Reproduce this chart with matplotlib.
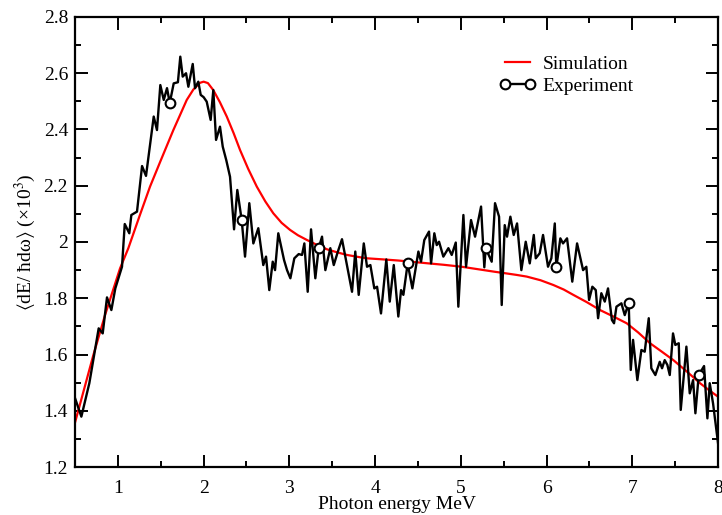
import numpy as np
import matplotlib
matplotlib.use("Agg")
import matplotlib.pyplot as plt
from matplotlib.ticker import MultipleLocator

plt.rcParams['font.family'] = ['Liberation Serif', 'DejaVu Serif']
plt.rcParams['mathtext.fontset'] = 'stix'

# Measured spectrum (photon energy in MeV, <dE/hbar dw> in units of 1e3)
exp_energy = [
    0.50, 0.574, 0.667, 0.776, 0.823, 0.873, 0.924, 0.970, 1.048, 1.080,
    1.133, 1.157, 1.223, 1.282, 1.328, 1.418, 1.456, 1.495, 1.535, 1.573,
    1.605, 1.651, 1.700, 1.728, 1.756, 1.795, 1.822, 1.873, 1.900, 1.938,
    1.966, 2.000, 2.036, 2.082, 2.113, 2.145, 2.191, 2.223, 2.265, 2.308,
    2.355, 2.393, 2.444, 2.483, 2.533, 2.580, 2.638, 2.696, 2.728, 2.766,
    2.806, 2.833, 2.871, 2.938, 2.973, 3.012, 3.058, 3.109, 3.148, 3.175,
    3.214, 3.253, 3.303, 3.342, 3.381, 3.420, 3.478, 3.518, 3.565, 3.614,
    3.731, 3.769, 3.809, 3.868, 3.906, 3.945, 3.991, 4.023, 4.069, 4.131,
    4.171, 4.218, 4.271, 4.303, 4.330, 4.380, 4.435, 4.505, 4.536, 4.574,
    4.629, 4.653, 4.691, 4.719, 4.746, 4.796, 4.855, 4.894, 4.941, 4.971,
    5.030, 5.061, 5.119, 5.166, 5.236, 5.274, 5.290, 5.360, 5.399, 5.446,
    5.477, 5.512, 5.539, 5.578, 5.617, 5.656, 5.706, 5.757, 5.804, 5.851,
    5.874, 5.920, 5.959, 6.017, 6.056, 6.096, 6.114, 6.161, 6.192, 6.239,
    6.300, 6.356, 6.426, 6.464, 6.496, 6.534, 6.574, 6.601, 6.639, 6.679,
    6.717, 6.762, 6.787, 6.815, 6.873, 6.912, 6.958, 6.982, 7.009, 7.059,
    7.106, 7.145, 7.192, 7.222, 7.269, 7.320, 7.347, 7.378, 7.409, 7.437,
    7.475, 7.502, 7.542, 7.565, 7.631, 7.670, 7.709, 7.736, 7.775, 7.837,
    7.876, 7.903, 7.942, 8.000,
]
exp_value = [
    1.445, 1.379, 1.498, 1.693, 1.675, 1.803, 1.758, 1.835, 1.912, 2.064,
    2.031, 2.096, 2.108, 2.270, 2.235, 2.446, 2.398, 2.558, 2.505, 2.547,
    2.494, 2.564, 2.568, 2.659, 2.588, 2.600, 2.552, 2.633, 2.547, 2.570,
    2.523, 2.515, 2.499, 2.434, 2.540, 2.363, 2.410, 2.339, 2.290, 2.232,
    2.045, 2.185, 2.078, 1.948, 2.138, 1.995, 2.049, 1.918, 1.948, 1.829,
    1.930, 1.900, 2.031, 1.936, 1.900, 1.871, 1.942, 1.957, 1.954, 1.995,
    1.823, 2.045, 1.871, 1.978, 2.019, 1.900, 1.978, 1.918, 1.965, 2.010,
    1.823, 1.966, 1.812, 1.995, 1.912, 1.918, 1.835, 1.841, 1.746, 1.938,
    1.788, 1.918, 1.735, 1.829, 1.812, 1.924, 1.835, 1.966, 1.930, 2.007,
    2.037, 1.924, 2.031, 1.989, 2.001, 1.948, 1.978, 1.954, 1.998, 1.770,
    2.096, 1.912, 2.078, 2.019, 2.126, 1.910, 1.978, 1.930, 2.138, 2.090,
    1.776, 2.060, 2.019, 2.090, 2.025, 2.066, 1.900, 2.001, 1.924, 2.025,
    1.942, 1.960, 2.025, 1.912, 1.942, 2.066, 1.910, 2.013, 1.995, 2.013,
    1.859, 1.995, 1.900, 1.912, 1.794, 1.841, 1.829, 1.729, 1.818, 1.788,
    1.835, 1.723, 1.711, 1.770, 1.782, 1.740, 1.782, 1.545, 1.652, 1.509,
    1.616, 1.610, 1.729, 1.551, 1.527, 1.574, 1.551, 1.580, 1.563, 1.527,
    1.675, 1.634, 1.640, 1.403, 1.628, 1.462, 1.509, 1.391, 1.527, 1.559,
    1.373, 1.498, 1.426, 1.285,
]
# Energies at which the experimental curve carries a circle symbol
exp_marker_energy = [1.605, 2.444, 3.342, 4.380, 5.290, 6.114, 6.958, 7.775]

# Simulated spectrum
sim_energy = [
    0.50, 0.60, 0.714, 0.85, 1.025, 1.122, 1.25, 1.375, 1.50, 1.647,
    1.72, 1.803, 1.88, 1.958, 2.00, 2.05, 2.113, 2.19, 2.27, 2.35,
    2.425, 2.52, 2.62, 2.72, 2.813, 2.91, 3.008, 3.10, 3.206, 3.32,
    3.439, 3.56, 3.672, 3.80, 3.906, 4.10, 4.276, 4.45, 4.621, 4.80,
    5.01, 5.205, 5.399, 5.516, 5.65, 5.769, 5.93, 6.08, 6.20, 6.312,
    6.47, 6.624, 6.78, 6.935, 7.07, 7.207, 7.34, 7.479, 7.63, 7.79,
    7.90, 8.00,
]
sim_value = [
    1.358, 1.470, 1.598, 1.740, 1.906, 1.978, 2.090, 2.197, 2.290, 2.398,
    2.448, 2.505, 2.542, 2.566, 2.570, 2.565, 2.540, 2.497, 2.446, 2.387,
    2.327, 2.260, 2.197, 2.144, 2.102, 2.068, 2.043, 2.024, 2.007, 1.990,
    1.974, 1.963, 1.954, 1.947, 1.942, 1.938, 1.934, 1.929, 1.924, 1.919,
    1.912, 1.903, 1.894, 1.889, 1.883, 1.877, 1.864, 1.847, 1.831, 1.812,
    1.786, 1.758, 1.735, 1.711, 1.678, 1.640, 1.611, 1.580, 1.541, 1.498,
    1.472, 1.450,
]

x_ticks = [1, 2, 3, 4, 5, 6, 7, 8]
y_ticks = [1.2, 1.4, 1.6, 1.8, 2.0, 2.2, 2.4, 2.6, 2.8]
y_tick_labels = ["1.2", "1.4", "1.6", "1.8", "2", "2.2", "2.4", "2.6", "2.8"]

fig = plt.figure(figsize=(7.22, 5.15), dpi=100)
ax = fig.add_axes([0.1039, 0.0932, 0.8906, 0.8738])

ex = np.array(exp_energy)
mark_idx = [int(np.argmin(np.abs(ex - m))) for m in exp_marker_energy]

ax.plot(sim_energy, sim_value, color='#ff0000', lw=1.6, label='Simulation', zorder=2)
ax.plot(exp_energy, exp_value, color='black', lw=1.7, marker='o', markevery=mark_idx,
        markersize=7, markerfacecolor='white', markeredgecolor='black',
        markeredgewidth=1.5, label='Experiment', zorder=3)

ax.set_xlim(0.5, 8)
ax.set_ylim(1.2, 2.8)
ax.set_xticks(x_ticks)
ax.set_xticklabels([str(t) for t in x_ticks])
ax.set_yticks(y_ticks)
ax.set_yticklabels(y_tick_labels)
ax.xaxis.set_minor_locator(MultipleLocator(0.5))
ax.yaxis.set_minor_locator(MultipleLocator(0.1))

ax.tick_params(which='both', direction='in', top=True, right=True,
               width=1.4, labelsize=14, color='black')
ax.tick_params(which='major', length=9)
ax.tick_params(which='minor', length=4.5)
ax.tick_params(axis='y', which='major', pad=5)
ax.tick_params(axis='x', which='major', pad=9.5)
for s in ax.spines.values():
    s.set_linewidth(1.6)

ax.set_xlabel('Photon energy MeV', fontsize=14, labelpad=-1)
ax.set_ylabel(r'$\langle$dE/ ħdω$\rangle$ (×10$^{3}$)', fontsize=14, labelpad=4)

leg = ax.legend(loc='upper left', bbox_to_anchor=(0.659, 0.915), frameon=False,
                fontsize=14, numpoints=2, handlelength=1.89, handletextpad=0.36,
                borderpad=0, borderaxespad=0, labelspacing=0.22)

fig.savefig('out.png', dpi=100)
